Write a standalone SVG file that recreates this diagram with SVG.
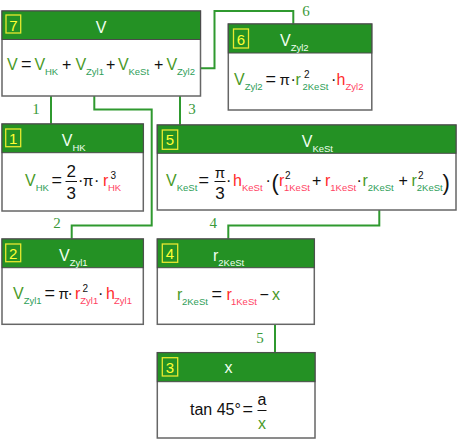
<svg xmlns="http://www.w3.org/2000/svg" width="458" height="440" viewBox="0 0 458 440">
<style>
.box{fill:#fff;stroke:#666;stroke-width:1.5}
.hdr{fill:#249124;stroke:#4a4a4a;stroke-width:1}
.num{fill:none;stroke:#e8e830;stroke-width:1.3}
.numt{font-family:"Liberation Sans",Arial,sans-serif;font-size:15px;fill:#ffff33;text-anchor:middle}
.ttl{font-family:"Liberation Sans",Arial,sans-serif;font-size:16px;fill:#f0fff0}
.f{font-family:"Liberation Sans",Arial,sans-serif;font-size:16px;fill:#111}
.s{font-size:9.5px}
.sp{font-size:10px}
.eq{font-size:18px}
.pi{font-size:15px}
.fr{font-size:17px}
.par{font-size:22px}
.gm{fill:#4a9a28}
.gs{fill:#2e9e58}
.rm{fill:#ff2a2a}
.rs{fill:#ff4262}
.mid{text-anchor:middle}
.conn{fill:none;stroke:#2f992f;stroke-width:2}
.fl{stroke:#111;stroke-width:1}
.lbl{font-family:"Liberation Serif","Times New Roman",serif;font-size:15px;fill:#3a9a3a;text-anchor:middle}
</style>

<g id="connectors">
<polyline class="conn" points="200,68.3 214.5,68.3 214.5,11 293.3,11 293.3,24"/>
<polyline class="conn" points="51,83 51,124"/>
<polyline class="conn" points="94.3,83 94.3,109.5 151.7,109.5 151.7,225.5 71.7,225.5 71.7,239"/>
<polyline class="conn" points="136,83 136,88.3 180,88.3 180,125"/>
<polyline class="conn" points="379.3,196 379.3,225.5 228.3,225.5 228.3,239"/>
<polyline class="conn" points="275,310 275,352.7"/>
<text class="lbl" x="36" y="114">1</text>
<text class="lbl" x="57" y="228">2</text>
<text class="lbl" x="192" y="114">3</text>
<text class="lbl" x="213.3" y="228">4</text>
<text class="lbl" x="260" y="343">5</text>
<text class="lbl" x="306" y="15.5">6</text>
</g>

<g id="node7">
<rect class="box" x="2" y="11" width="198.5" height="85"/>
<rect class="hdr" x="2" y="11" width="198.5" height="28.5"/>
<rect class="num" x="6" y="15" width="14.7" height="18"/>
<text class="numt" x="13.4" y="30.5">7</text>
<text class="ttl mid" x="101" y="32.5">V</text>
<text class="f" y="70"><tspan x="7" class="gm">V</tspan><tspan x="21" class="eq">=</tspan><tspan x="34.5" class="gm">V</tspan><tspan x="45" y="75" class="s gs">HK</tspan><tspan x="62" y="70">+</tspan><tspan x="75.5" class="gm">V</tspan><tspan x="86" y="75" class="s gs">Zyl1</tspan><tspan x="106" y="70">+</tspan><tspan x="118" class="gm">V</tspan><tspan x="128.5" y="75" class="s gs">KeSt</tspan><tspan x="154" y="70">+</tspan><tspan x="166.5" class="gm">V</tspan><tspan x="177" y="75" class="s gs">Zyl2</tspan></text>
</g>

<g id="node6">
<rect class="box" x="228.3" y="24" width="143.5" height="86"/>
<rect class="hdr" x="228.3" y="24" width="143.5" height="29"/>
<rect class="num" x="233.5" y="29" width="15" height="19"/>
<text class="numt" x="241" y="44.5">6</text>
<text class="ttl" y="45.5"><tspan x="280">V</tspan><tspan x="290.7" y="50.5" class="s">Zyl2</tspan></text>
<text class="f" y="85"><tspan x="234" class="gm">V</tspan><tspan x="244.7" y="90" class="s gs">Zyl2</tspan><tspan x="265.5" y="85" class="eq">=</tspan><tspan x="279.5" class="pi">π</tspan><tspan x="290.5">·</tspan><tspan x="295.5" class="gm">r</tspan><tspan x="304" y="78" class="sp">2</tspan><tspan x="302.5" y="90" class="s gs">2KeSt</tspan><tspan x="331" y="85">·</tspan><tspan x="336.5" class="rm">h</tspan><tspan x="345.5" y="90" class="s rs">Zyl2</tspan></text>
</g>

<g id="node1">
<rect class="box" x="2" y="124" width="141.3" height="87"/>
<rect class="hdr" x="2" y="124" width="141.3" height="28.7"/>
<rect class="num" x="5.7" y="129" width="15" height="17.7"/>
<text class="numt" x="13.2" y="143.5">1</text>
<text class="ttl" y="145.5"><tspan x="61.7">V</tspan><tspan x="72.4" y="150.5" class="s">HK</tspan></text>
<text class="f" y="186"><tspan x="25" class="gm">V</tspan><tspan x="35.7" y="191" class="s gs">HK</tspan><tspan x="51.5" y="186" class="eq">=</tspan><tspan x="78">·</tspan><tspan x="83" class="pi">π</tspan><tspan x="94">·</tspan><tspan x="103" class="rm">r</tspan><tspan x="110.5" y="179" class="sp">3</tspan><tspan x="108" y="191" class="s rs">HK</tspan></text>
<text class="f fr mid" x="71.3" y="177">2</text>
<line class="fl" x1="65.5" y1="181.5" x2="77" y2="181.5"/>
<text class="f fr mid" x="71.3" y="199">3</text>
</g>

<g id="node5">
<rect class="box" x="157.3" y="125" width="298.7" height="85"/>
<rect class="hdr" x="157.3" y="125" width="298.7" height="28.3"/>
<rect class="num" x="162.3" y="130" width="15.4" height="19.3"/>
<text class="numt" x="170" y="145">5</text>
<text class="ttl" y="146.5"><tspan x="301.7">V</tspan><tspan x="312.4" y="151.5" class="s">KeSt</tspan></text>
<text class="f" y="186"><tspan x="166" class="gm">V</tspan><tspan x="176.7" y="191" class="s gs">KeSt</tspan><tspan x="198.5" y="186" class="eq">=</tspan><tspan x="226">·</tspan><tspan x="233" class="rm">h</tspan><tspan x="242" y="191" class="s rs">KeSt</tspan><tspan x="265.5" y="186">·</tspan><tspan x="271.5" y="189.5" class="par">(</tspan><tspan x="279" y="186" class="rm">r</tspan><tspan x="285" y="179" class="sp">2</tspan><tspan x="284" y="191" class="s rs">1KeSt</tspan><tspan x="312" y="186">+</tspan><tspan x="325" class="rm">r</tspan><tspan x="330.3" y="191" class="s rs">1KeSt</tspan><tspan x="356.5" y="186">·</tspan><tspan x="362.5" class="gm">r</tspan><tspan x="367.8" y="191" class="s gs">2KeSt</tspan><tspan x="398.5" y="186">+</tspan><tspan x="411.5" class="gm">r</tspan><tspan x="418" y="179" class="sp">2</tspan><tspan x="416.8" y="191" class="s gs">2KeSt</tspan><tspan x="442.5" y="189.5" class="par">)</tspan></text>
<text class="f pi mid" x="220" y="177.5">π</text>
<line class="fl" x1="214.5" y1="181.5" x2="225.5" y2="181.5"/>
<text class="f fr mid" x="220" y="198.5">3</text>
</g>

<g id="node2">
<rect class="box" x="2" y="239" width="141.3" height="85.3"/>
<rect class="hdr" x="2" y="239" width="141.3" height="28.7"/>
<rect class="num" x="5.7" y="244" width="15" height="17.7"/>
<text class="numt" x="13.2" y="258.5">2</text>
<text class="ttl" y="260.5"><tspan x="59">V</tspan><tspan x="69.7" y="265.5" class="s">Zyl1</tspan></text>
<text class="f" y="299"><tspan x="13" class="gm">V</tspan><tspan x="23.7" y="304" class="s gs">Zyl1</tspan><tspan x="44.5" y="299" class="eq">=</tspan><tspan x="58.5" class="pi">π</tspan><tspan x="67.5">·</tspan><tspan x="75" class="rm">r</tspan><tspan x="82.5" y="292" class="sp">2</tspan><tspan x="80.3" y="304" class="s rs">Zyl1</tspan><tspan x="98" y="299">·</tspan><tspan x="106" class="rm">h</tspan><tspan x="114" y="304" class="s rs">Zyl1</tspan></text>
</g>

<g id="node4">
<rect class="box" x="157.3" y="239" width="157" height="85.3"/>
<rect class="hdr" x="157.3" y="239" width="157" height="28.7"/>
<rect class="num" x="162.3" y="244" width="15.4" height="18.3"/>
<text class="numt" x="170" y="258.5">4</text>
<text class="ttl" y="260.5"><tspan x="213">r</tspan><tspan x="218.3" y="265.5" class="s">2KeSt</tspan></text>
<text class="f" y="300"><tspan x="177" class="gm">r</tspan><tspan x="182" y="305" class="s gs">2KeSt</tspan><tspan x="211.5" y="300" class="eq">=</tspan><tspan x="226.5" class="rm">r</tspan><tspan x="231" y="305" class="s rs">1KeSt</tspan><tspan x="259.5" y="300">−</tspan><tspan x="272" class="gm">x</tspan></text>
</g>

<g id="node3">
<rect class="box" x="157.3" y="352.7" width="157.7" height="85.3"/>
<rect class="hdr" x="157.3" y="352.7" width="157.7" height="29"/>
<rect class="num" x="162.3" y="357.7" width="15.4" height="18.3"/>
<text class="numt" x="170" y="372.5">3</text>
<text class="ttl" x="224.5" y="373">x</text>
<text class="f" y="415"><tspan x="190">tan 45°</tspan><tspan x="242.5" class="eq">=</tspan></text>
<text class="f mid" x="262" y="405">a</text>
<line class="fl" x1="257.5" y1="410.5" x2="266.5" y2="410.5"/>
<text class="f mid gm" x="262" y="429">x</text>
</g>
</svg>
